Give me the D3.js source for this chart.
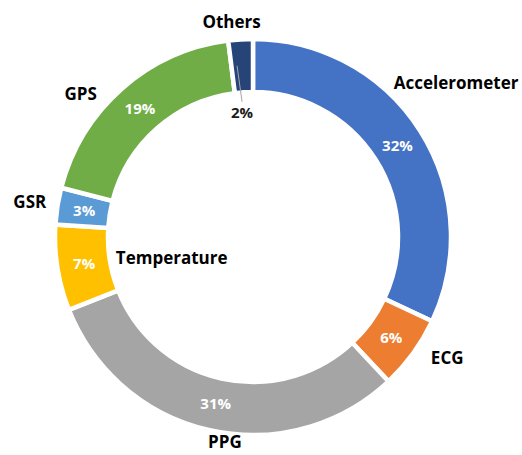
<!DOCTYPE html>
<html>
<head>
<meta charset="utf-8">
<script src="https://cdn.jsdelivr.net/npm/d3@7"></script>
<style>
  body { margin: 0; background: #fff; }
  text { font-family: "Open Sans", Lato, sans-serif; font-weight: bold; }
</style>
</head>
<body>
<div id="chart"></div>
<script>
// Chart data
var sensors = ["Accelerometer", "ECG", "PPG", "Temperature", "GSR", "GPS", "Others"];
var shares = [32, 6, 31, 7, 3, 19, 2];
var colors = ["#4472C4", "#ED7D31", "#A5A5A5", "#FFC000", "#5B9BD5", "#70AD47", "#264478"];

// where each category name sits: [radius, angle in degrees clockwise from top]
var nameSpots = [[255, 52.8], [229, 122], [207, 187.8], [84, 255.5], [226, 279], [224, 309.7], [216, 354.3]];

var svgWidth = 522;
var svgHeight = 455;
var cx = 253, cy = 237;
var outerR = 198, innerR = 145;

var svg = d3.select("#chart")
    .append("svg")
    .attr("width", svgWidth)
    .attr("height", svgHeight);

var g = svg.append("g")
    .attr("transform", `translate(${cx}, ${cy})`);

var pie = d3.pie().sort(null).value(d => d);
var arcs = pie(shares);

var arc = d3.arc().innerRadius(innerR).outerRadius(outerR);
var midArc = d3.arc().innerRadius(171).outerRadius(171);

g.selectAll("path")
    .data(arcs)
    .enter()
    .append("path")
    .attr("d", arc)
    .attr("fill", (d, i) => colors[i])
    .attr("stroke", "#fff")
    .attr("stroke-width", 4.5);

// percentage labels (Others goes inside the hole with a leader line)
g.selectAll(".pct")
    .data(arcs.filter((d, i) => sensors[i] !== "Others"))
    .enter()
    .append("text")
    .attr("class", "pct")
    .attr("transform", d => `translate(${midArc.centroid(d)})`)
    .attr("text-anchor", "middle")
    .attr("dy", "0.36em")
    .attr("fill", "#fff")
    .attr("font-size", 15)
    .text(d => d.data + "%");

var others = arcs[sensors.indexOf("Others")];
var oa = (others.startAngle + others.endAngle) / 2 - 0.03;
g.append("line")
    .attr("x1", Math.sin(oa) * 172)
    .attr("y1", -Math.cos(oa) * 172)
    .attr("x2", Math.sin(oa) * 172 + 5)
    .attr("y2", -Math.cos(oa) * 172 + 36)
    .attr("stroke", "#a6a6a6")
    .attr("stroke-width", 1);
g.append("text")
    .attr("x", Math.sin(oa) * 172 + 5)
    .attr("y", -Math.cos(oa) * 172 + 52)
    .attr("text-anchor", "middle")
    .attr("fill", "#1a1a1a")
    .attr("font-size", 15)
    .text(others.data + "%");

// category names
g.selectAll(".name")
    .data(sensors)
    .enter()
    .append("text")
    .attr("class", "name")
    .attr("x", (d, i) => Math.sin(nameSpots[i][1] * Math.PI / 180) * nameSpots[i][0])
    .attr("y", (d, i) => -Math.cos(nameSpots[i][1] * Math.PI / 180) * nameSpots[i][0])
    .attr("text-anchor", "middle")
    .attr("dy", "0.36em")
    .attr("fill", "#000")
    .attr("font-size", 17)
    .text(d => d);
</script>
</body>
</html>
